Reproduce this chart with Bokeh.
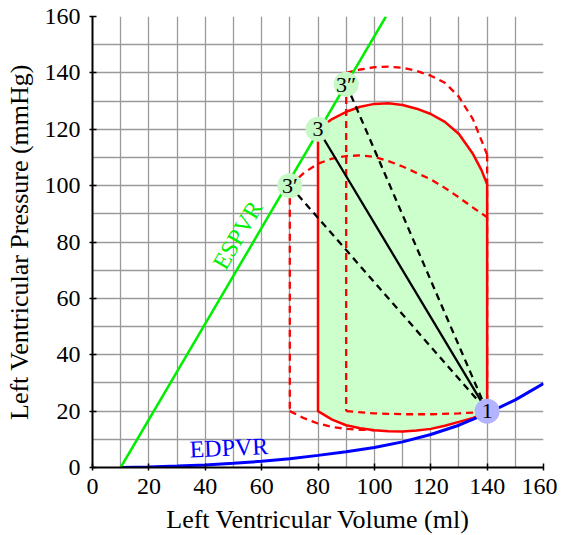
from bokeh.plotting import figure
from bokeh.models import Range1d, FixedTicker
from bokeh.core.properties import value
from bokeh.embed import file_html
from bokeh.resources import INLINE

# ---------------- data ----------------
axis_ticks = [0, 20, 40, 60, 80, 100, 120, 140, 160]
grid_ticks = [0, 10, 20, 30, 40, 50, 60, 70, 80, 90, 100, 110, 120, 130, 140, 150, 160]

# End-diastolic pressure-volume relation
edpvr_v = [10, 20, 30, 40, 50, 60, 70, 80, 90, 100, 110, 120, 130, 140, 150, 160]
edpvr_p = [0, 0.2, 0.5, 0.9, 1.5, 2.2, 3.1, 4.3, 5.6, 7.1, 9.1, 11.7, 15.0, 19.2, 24.0, 29.8]

# End-systolic pressure-volume relation
espvr_v = [10, 104.1]
espvr_p = [0, 160]

# Baseline loop (solid)
base_top_v = [80, 85, 90, 95, 100, 105, 110, 115, 120, 125, 130, 135, 138, 140]
base_top_p = [120, 123.6, 126.2, 128, 129, 129.2, 128.6, 127.3, 125.4, 122.6, 118.3, 111.2, 105.5, 100.5]
base_bot_v = [80, 85, 90, 95, 100, 105, 110, 115, 120, 125, 130, 135, 140]
base_bot_p = [20, 17.0, 15.0, 13.9, 13.2, 12.9, 12.8, 13.1, 13.7, 14.8, 16.2, 17.6, 19.6]

# Loop 3' (dashed, smaller end-systolic volume)
l1_top_v = [70, 75, 80, 85, 90, 95, 100, 105, 110, 115, 120, 125, 130, 135, 140]
l1_top_p = [100, 104.5, 107.8, 109.6, 110.5, 110.7, 110.2, 108.7, 106.8, 104.5, 102.2, 99.2, 95.8, 92.2, 88.8]
l1_bot_v = [70, 75, 80, 85, 90, 95, 100]
l1_bot_p = [20, 17.5, 15.6, 14.4, 13.7, 13.4, 13.2]

# Loop 3'' (dashed, larger end-systolic volume)
l2_top_v = [90, 95, 100, 105, 110, 115, 120, 125, 130, 135, 138, 140]
l2_top_p = [140, 141.2, 142, 142.2, 141.8, 140.7, 139, 136.5, 131.5, 123.5, 116, 111]
l2_bot_v = [90, 100, 110, 120, 130, 140]
l2_bot_p = [20, 19.2, 18.9, 18.9, 19.2, 19.8]

# Marked points
es_names = ["3\u2032", "3", "3\u2033"]
es_v = [70, 80, 90]
es_p = [100, 120, 136]
ed_name = "1"
ed_v = 140
ed_p = 20

# ---------------- figure ----------------
FONT = "Liberation Serif"
AX_FONT = "'Liberation Serif', serif"
RED = "#ff0000"

p = figure(frame_width=451, frame_height=451,
           min_border_left=92, min_border_right=14, min_border_top=16, min_border_bottom=66,
           x_range=Range1d(0, 160), y_range=Range1d(0, 160),
           output_backend="svg", toolbar_location=None, tools="")
p.outline_line_color = None
p.background_fill_color = "white"

for ax in (p.xaxis, p.yaxis):
    ax.ticker = FixedTicker(ticks=axis_ticks)
    ax.axis_line_width = 2
    ax.axis_line_color = "black"
    ax.major_tick_line_width = 1.5
    ax.major_tick_line_color = "black"
    ax.major_tick_in = 4
    ax.major_tick_out = 3
    ax.minor_tick_line_color = None
    ax.major_label_text_font = AX_FONT
    ax.major_label_text_font_size = "24px"
    ax.major_label_text_color = "black"
    ax.axis_label_text_font = AX_FONT
    ax.axis_label_text_font_size = "26px"
    ax.axis_label_text_font_style = "normal"
    ax.axis_label_text_color = "black"

p.xaxis.axis_label = "Left Ventricular Volume (ml)"
p.yaxis.axis_label = "Left Ventricular Pressure (mmHg)"
p.xaxis.major_label_standoff = 8
p.yaxis.major_label_standoff = 9
p.xaxis.axis_label_standoff = 8
p.yaxis.axis_label_standoff = 8

for g in (p.xgrid, p.ygrid):
    g.ticker = FixedTicker(ticks=grid_ticks)
    g.grid_line_color = "#9a9a9a"
    g.grid_line_width = 1.3

# fill of the baseline loop
fill_v = base_top_v + base_bot_v[::-1]
fill_p = base_top_p + base_bot_p[::-1]
p.patch(fill_v, fill_p, fill_color="#ccffcc", line_color=None)

# dashed loops
dash = "7 5"
p.line([l1_top_v[0], l1_bot_v[0]], [l1_top_p[0], l1_bot_p[0]], line_color=RED, line_width=2.3, line_dash=dash)
p.line(l1_top_v, l1_top_p, line_color=RED, line_width=2.3, line_dash=dash)
p.line(l1_bot_v, l1_bot_p, line_color=RED, line_width=2.3, line_dash=dash)

p.line([l2_top_v[0], l2_bot_v[0]], [l2_top_p[0], l2_bot_p[0]], line_color=RED, line_width=2.3, line_dash=dash)
p.line(l2_top_v, l2_top_p, line_color=RED, line_width=2.3, line_dash=dash)
p.line(l2_bot_v, l2_bot_p, line_color=RED, line_width=2.3, line_dash=dash)
p.line([l2_top_v[-1], l2_bot_v[-1]], [l2_top_p[-1], l2_bot_p[-1]], line_color=RED, line_width=2.3, line_dash=dash)

# solid baseline loop outline
out_v = base_top_v + base_bot_v[::-1] + [base_top_v[0]]
out_p = base_top_p + base_bot_p[::-1] + [base_top_p[0]]
p.line(out_v, out_p, line_color=RED, line_width=2.5)

# EDPVR and ESPVR
p.line(edpvr_v, edpvr_p, line_color="#0000ff", line_width=3)
p.line(espvr_v, espvr_p, line_color="#00ee00", line_width=2.5)

# lines from end-systolic points to end-diastolic point
p.line([es_v[1], ed_v], [es_p[1], ed_p], line_color="black", line_width=2.3)
p.line([es_v[0], ed_v], [es_p[0], ed_p], line_color="black", line_width=2.3, line_dash=dash)
p.line([es_v[2], ed_v], [es_p[2], ed_p], line_color="black", line_width=2.3, line_dash=dash)

# point markers
p.scatter(es_v, es_p, marker="circle", size=25, fill_color="#c6f9c6", line_color=None)
p.scatter([ed_v], [ed_p], marker="circle", size=25, fill_color="#b3b3ff", line_color=None)
p.text(es_v, es_p, text=es_names, text_font=value(FONT), text_font_size="22px",
       text_align="center", text_baseline="middle", text_color="black")
p.text([ed_v], [ed_p], text=[ed_name], text_font=value(FONT), text_font_size="22px",
       text_align="center", text_baseline="middle", text_color="black")

# curve labels
p.text([51.5], [82.5], text=["ESPVR"], angle=1.04, text_font=value(FONT), text_font_size="24px",
       text_align="center", text_baseline="middle", text_color="#00ee00")
p.text([48.4], [7.0], text=["EDPVR"], angle=0.045, text_font=value(FONT), text_font_size="24px",
       text_align="center", text_baseline="middle", text_color="#0000ff")

open("out.html", "w").write(file_html(p, INLINE))
